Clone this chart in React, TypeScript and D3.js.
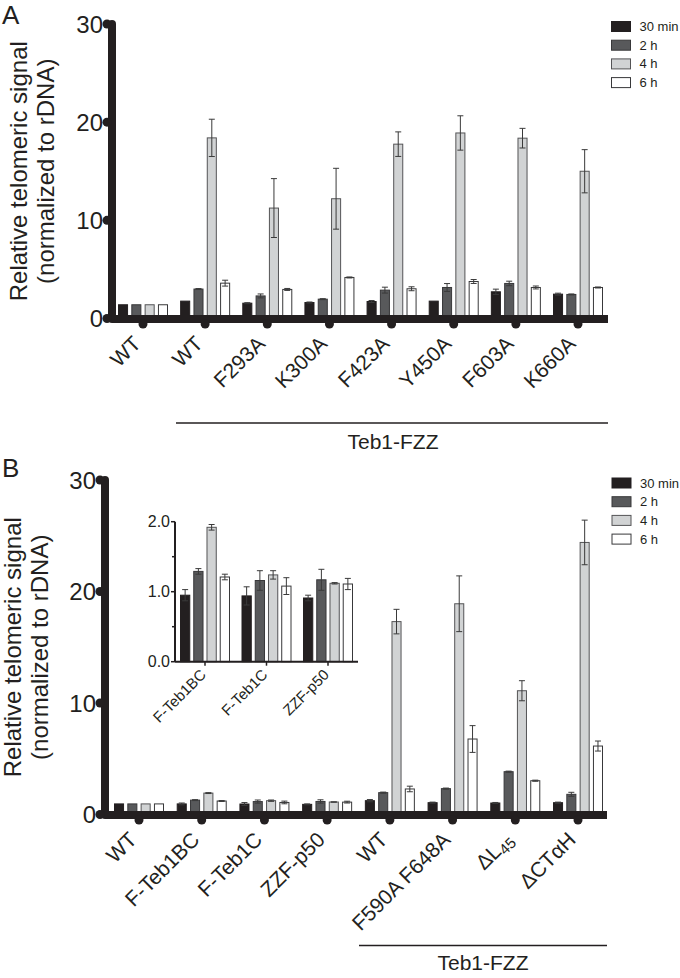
import React from "react";
import * as d3 from "d3";

const seriesNames = ["30 min", "2 h", "4 h", "6 h"];
const seriesFill = ["#231f20", "#58595b", "#d1d3d4", "#ffffff"];
const seriesStroke = ["#231f20", "#38383a", "#545456", "#38383a"];

// Panel A
const catsA = ["WT", "WT", "F293A", "K300A", "F423A", "Y450A", "F603A", "K660A"];
const a30min = [1.4, 1.77, 1.56, 1.63, 1.73, 1.77, 2.72, 2.48];
const a2h = [1.4, 3.0, 2.3, 1.97, 2.89, 3.16, 3.57, 2.45];
const a4h = [1.4, 18.4, 11.25, 12.2, 17.76, 18.9, 18.37, 15.0];
const a6h = [1.4, 3.6, 2.96, 4.18, 3.03, 3.77, 3.16, 3.16];
const a30minErr = [0, 0, 0.05, 0.05, 0.1, 0, 0.27, 0.1];
const a2hErr = [0, 0.05, 0.2, 0.05, 0.3, 0.4, 0.23, 0.05];
const a4hErr = [0, 1.9, 3.0, 3.1, 1.25, 1.75, 1.0, 2.2];
const a6hErr = [0, 0.3, 0.1, 0.05, 0.2, 0.2, 0.15, 0.05];

// Panel B
const catsB = ["WT", "F-Teb1BC", "F-Teb1C", "ZZF-p50", "WT", "F590A F648A", "ΔL45", "ΔCTαH"];
const b30min = [0.95, 0.95, 0.94, 0.91, 1.24, 1.06, 1.03, 1.06];
const b2h = [0.95, 1.29, 1.16, 1.17, 1.96, 2.32, 3.84, 1.81];
const b4h = [0.95, 1.92, 1.24, 1.12, 17.3, 18.9, 11.1, 24.4];
const b6h = [0.95, 1.21, 1.08, 1.11, 2.29, 6.77, 3.03, 6.14];
const b30minErr = [0, 0.08, 0.13, 0.04, 0.1, 0.05, 0.05, 0.05];
const b2hErr = [0, 0.04, 0.14, 0.15, 0.05, 0.05, 0.05, 0.18];
const b4hErr = [0, 0.04, 0.06, 0.01, 1.1, 2.5, 0.9, 2.0];
const b6hErr = [0, 0.04, 0.12, 0.08, 0.25, 1.2, 0.05, 0.45];

const insetIdx = [1, 2, 3];
const mainTicks = [0, 10, 20, 30];
const insetTicks = [0, 1, 2];
const insetMinor = [0.5, 1.5];

const FONT = "'Liberation Sans', Arial, Helvetica, sans-serif";
const INK = "#231f20";

type BarsProps = {
  n: number[];
  vals: number[][];
  errs: number[][];
  x: (i: number) => number;
  y: d3.ScaleLinear<number, number>;
  sub: d3.ScaleBand<string>;
};

function Bars({ n, vals, errs, x, y, sub }: BarsProps) {
  const y0 = y(0);
  return (
    <g>
      {n.map((gi, k) =>
        vals.map((s, si) => {
          const v = s[gi];
          const bx = x(k) + (sub(String(si)) as number);
          const bw = sub.bandwidth();
          const e = errs[si][gi];
          const cx = bx + bw / 2;
          return (
            <g key={`${k}-${si}`}>
              <rect x={bx} y={y(v)} width={bw} height={y0 - y(v)} fill={seriesFill[si]} stroke={seriesStroke[si]} strokeWidth={1} />
              {e > 0 && (
                <g stroke="#3a3a3a" strokeWidth={1}>
                  <line x1={cx} x2={cx} y1={y(v - e)} y2={y(v + e)} />
                  <line x1={cx - 3} x2={cx + 3} y1={y(v + e)} y2={y(v + e)} />
                  <line x1={cx - 3} x2={cx + 3} y1={y(v - e)} y2={y(v - e)} />
                </g>
              )}
            </g>
          );
        })
      )}
    </g>
  );
}

function Legend({ x, y }: { x: number; y: number }) {
  return (
    <g>
      {seriesNames.map((s, i) => (
        <g key={s} transform={`translate(${x},${y + i * 18.7})`}>
          <rect x={0} y={0} width={19} height={10} fill={seriesFill[i]} stroke={seriesStroke[i]} strokeWidth={1} />
          <text x={28} y={9.5} fontSize={13} fontFamily={FONT} fill={INK}>{s}</text>
        </g>
      ))}
    </g>
  );
}

function Label({ text, fs }: { text: string; fs: number }) {
  if (text === "ΔL45") {
    return (
      <>
        ΔL<tspan fontSize={fs * 0.72} dy={4}>45</tspan>
      </>
    );
  }
  return <>{text}</>;
}

type PanelProps = {
  letter: string;
  letterY: number;
  cats: string[];
  vals: number[][];
  errs: number[][];
  axisX: number;
  yTop: number;
  yZero: number;
  xFirst: number;
  xLast: number;
  xEnd: number;
  lineY: number;
  lineX1: number;
  groupLabelX: number;
  groupLabelY: number;
  titleShift: number;
};

function Panel(p: PanelProps) {
  const y = d3.scaleLinear().domain([0, 30]).range([p.yZero, p.yTop]);
  const idx = p.cats.map((_, i) => i);
  const xs = d3.scalePoint<number>().domain(idx).range([p.xFirst, p.xLast]);
  const sub = d3.scaleBand<string>().domain(["0", "1", "2", "3"]).range([-24.5, 24.5]).paddingInner(0.32);
  const axisY = p.yZero + 0.5;
  const titleC = (p.yTop + p.yZero) / 2;
  return (
    <g>
      <text x={2} y={p.letterY} fontSize={26} fontFamily={FONT} fill={INK}>{p.letter}</text>
      <g transform={`translate(${p.titleShift},${titleC}) rotate(-90)`} fontFamily={FONT} fontSize={24} fill={INK} textAnchor="middle">
        <text x={0} y={26.5}>Relative telomeric signal</text>
        <text x={0} y={53.5}>(normalized to rDNA)</text>
      </g>
      <Bars n={idx} vals={p.vals} errs={p.errs} x={(k) => xs(k) as number} y={y} sub={sub} />
      <line x1={p.axisX} x2={p.axisX} y1={y(30)} y2={axisY} stroke={INK} strokeWidth={8} strokeLinecap="round" />
      <line x1={p.axisX} x2={p.xEnd} y1={axisY} y2={axisY} stroke={INK} strokeWidth={8} strokeLinecap="butt" />
      {mainTicks.map((t) => (
        <g key={t}>
          <circle cx={p.axisX - 5} cy={y(t)} r={4.5} fill={INK} />
          <text x={p.axisX - 9} y={y(t) + 8.5} textAnchor="end" fontSize={24} fontFamily={FONT} fill={INK}>{t}</text>
        </g>
      ))}
      {idx.map((k) => (
        <g key={k}>
          <circle cx={xs(k) as number} cy={axisY + 5} r={4.5} fill={INK} />
          <text
            transform={`translate(${(xs(k) as number) - 1},${axisY + 26}) rotate(-45)`}
            textAnchor="end"
            fontSize={21}
            fontFamily={FONT}
            fill={INK}
          >
            <Label text={p.cats[k]} fs={21} />
          </text>
        </g>
      ))}
      <line x1={p.lineX1} x2={p.xEnd} y1={p.lineY} y2={p.lineY} stroke={INK} strokeWidth={1.5} />
      <text x={p.groupLabelX} y={p.groupLabelY} textAnchor="middle" fontSize={21} fontFamily={FONT} fill={INK}>Teb1-FZZ</text>
    </g>
  );
}

function Inset({ vals, errs }: { vals: number[][]; errs: number[][] }) {
  const y = d3.scaleLinear().domain([0, 2]).range([661.7, 521.7]);
  const idx = insetIdx.map((_, i) => i);
  const xs = d3.scalePoint<number>().domain(idx).range([205, 328]);
  const sub = d3.scaleBand<string>().domain(["0", "1", "2", "3"]).range([-24.5, 24.5]).paddingInner(0.3);
  const ax = 175;
  return (
    <g>
      <Bars n={insetIdx} vals={vals} errs={errs} x={(k) => xs(k) as number} y={y} sub={sub} />
      <line x1={ax} x2={ax} y1={y(2)} y2={y(0)} stroke={INK} strokeWidth={2} />
      <line x1={ax} x2={358} y1={y(0)} y2={y(0)} stroke={INK} strokeWidth={2} />
      {insetTicks.map((t) => (
        <g key={t}>
          <line x1={ax - 4} x2={ax} y1={y(t)} y2={y(t)} stroke={INK} strokeWidth={1.5} />
          <text x={ax - 5} y={y(t) + 5.5} textAnchor="end" fontSize={16} fontFamily={FONT} fill={INK}>{t.toFixed(1)}</text>
        </g>
      ))}
      {insetMinor.map((t) => (
        <line key={t} x1={ax - 3} x2={ax} y1={y(t)} y2={y(t)} stroke={INK} strokeWidth={1.5} />
      ))}
      {idx.map((k) => (
        <g key={k}>
          <line x1={xs(k) as number} x2={xs(k) as number} y1={y(0)} y2={y(0) + 4} stroke={INK} strokeWidth={1.5} />
          <text
            transform={`translate(${(xs(k) as number) + 2},${y(0) + 14}) rotate(-45)`}
            textAnchor="end"
            fontSize={15}
            fontFamily={FONT}
            fill={INK}
          >
            {catsB[insetIdx[k]]}
          </text>
        </g>
      ))}
    </g>
  );
}

export default function App() {
  const valsA = [a30min, a2h, a4h, a6h];
  const errsA = [a30minErr, a2hErr, a4hErr, a6hErr];
  const valsB = [b30min, b2h, b4h, b6h];
  const errsB = [b30minErr, b2hErr, b4hErr, b6hErr];
  return (
    <svg width={680} height={978} style={{ position: "absolute", left: 0, top: 0, background: "#fff" }}>
      <rect width={680} height={978} fill="#fff" />
      <Panel
        letter="A"
        letterY={24}
        cats={catsA}
        vals={valsA}
        errs={errsA}
        axisX={112}
        yTop={24}
        yZero={318.5}
        xFirst={143}
        xLast={578}
        xEnd={608}
        lineY={423}
        lineX1={176}
        groupLabelX={393}
        groupLabelY={449}
        titleShift={0}
      />
      <Legend x={611.5} y={21.5} />
      <Panel
        letter="B"
        letterY={477}
        cats={catsB}
        vals={valsB}
        errs={errsB}
        axisX={105}
        yTop={480}
        yZero={814.5}
        xFirst={139}
        xLast={578}
        xEnd={607}
        lineY={945.5}
        lineX1={359}
        groupLabelX={483}
        groupLabelY={970}
        titleShift={-6}
      />
      <Legend x={612} y={478} />
      <Inset vals={valsB} errs={errsB} />
    </svg>
  );
}
